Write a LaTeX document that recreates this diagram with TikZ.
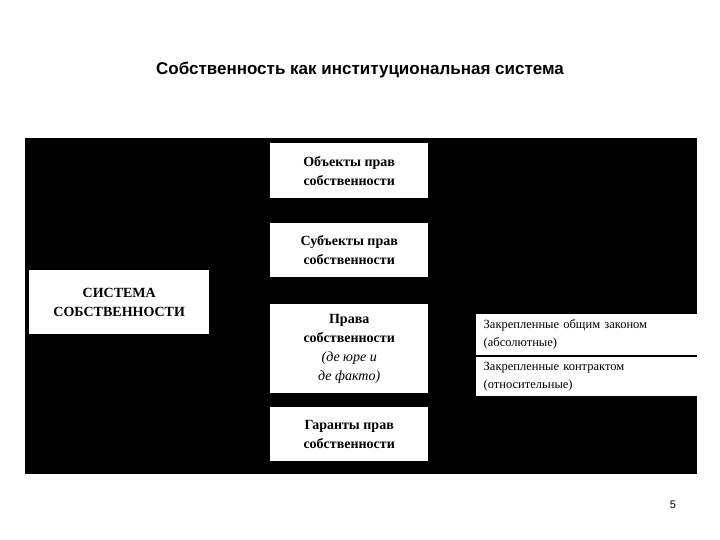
\documentclass[tikz,border=0pt]{standalone}
\usepackage{fontspec}
\setmainfont{Liberation Serif}
\newfontfamily\titlefont{Liberation Sans}
\begin{document}
\begin{tikzpicture}[x=1pt,y=-1pt,
  wbox/.style={fill=white,inner sep=0pt,align=center,font=\fontsize{14}{19}\selectfont\bfseries},
  rbox/.style={fill=white,inner sep=0pt,align=left,text width=206pt,font=\fontsize{12.5}{18}\selectfont}]
\useasboundingbox[fill=white] (0,0) rectangle (720,540);
\node[font=\titlefont\fontsize{17}{20}\selectfont\bfseries] (title) at (360,70) {Собственность как институциональная система};
\fill[black] (25,138) rectangle (697,474);
\node[wbox,minimum width=180pt,minimum height=64pt,anchor=north west] (sys) at (29,270) {\raisebox{6pt}{\parbox{170pt}{\centering СИСТЕМА\\СОБСТВЕННОСТИ}}};
\node[wbox,minimum width=158pt,minimum height=55pt,anchor=north west] (obj) at (270,143) {Объекты прав\\собственности};
\node[wbox,minimum width=158pt,minimum height=54pt,anchor=north west] (subj) at (270,223) {Субъекты прав\\собственности};
\node[wbox,minimum width=158pt,minimum height=89pt,anchor=north west] (prava) at (270,304) {Права\\собственности\\{\normalfont\itshape (де юре и}\\{\normalfont\itshape де факто)}};
\node[wbox,minimum width=158pt,minimum height=54pt,anchor=north west] (gar) at (270,407) {Гаранты прав\\собственности};
\node[rbox,minimum width=221pt,minimum height=41pt,anchor=north west] (abs) at (476,314) {Закрепленные общим законом\\(абсолютные)};
\node[rbox,minimum width=221pt,minimum height=39pt,anchor=north west] (rel) at (476,357) {Закрепленные контрактом\\(относительные)};
\node[font=\titlefont\fontsize{11}{13}\selectfont] (num) at (673,505) {5};
\end{tikzpicture}
\end{document}
